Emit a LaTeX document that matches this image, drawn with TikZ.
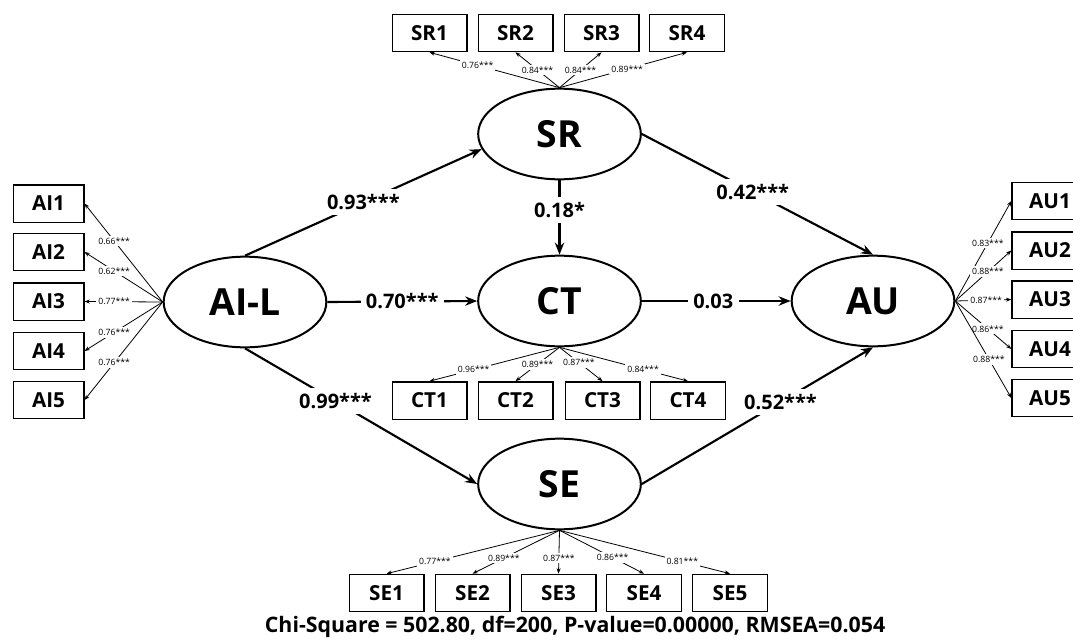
\documentclass[tikz,border=0pt]{standalone}
\usepackage{fontspec}
\setmainfont{Open Sans}
\usetikzlibrary{arrows.meta,shapes.geometric}
\begin{document}
\begin{tikzpicture}[x=0.75pt,y=-0.75pt,
  lat/.style={draw, line width=1.5pt, ellipse, minimum width=122pt, minimum height=68pt, inner sep=0pt, font=\bfseries\fontsize{28}{28}\selectfont},
  ind/.style={draw, line width=1pt, rectangle, minimum width=56pt, minimum height=28pt, inner sep=0pt, font=\bfseries\fontsize{15.5}{15.5}\selectfont},
  indA/.style={ind, minimum width=53pt},
  spath/.style={line width=1.6pt, -{Stealth[length=9pt,width=7pt]}},
  slab/.style={fill=white, inner sep=4pt, font=\bfseries\fontsize{15}{15}\selectfont},
  load/.style={line width=0.6pt, -{Stealth[length=4pt,width=3pt]}},
  llab/.style={fill=white, inner sep=1.5pt, font=\fontsize{6.5}{6.5}\selectfont},
  fitlab/.style={font=\bfseries\fontsize{16}{16}\selectfont}
]
\useasboundingbox (0,0) rectangle (1073,639);
\clip (0,0) rectangle (1073,639);
% latent variables
\node[lat] (AIL) at (245,302) {AI-L};
\node[lat] (SR) at (559.5,134) {SR};
\node[lat] (CT) at (559.5,301) {CT};
\node[lat] (SE) at (559.5,484) {SE};
\node[lat] (AU) at (873,301) {AU};
% indicators
\node[ind] (SR1) at (429.5,33) {SR1};
\node[ind] (SR2) at (515.5,33) {SR2};
\node[ind] (SR3) at (601.5,33) {SR3};
\node[ind] (SR4) at (687,33) {SR4};
\node[indA] (AI1) at (48.5,203.5) {AI1};
\node[indA] (AI2) at (48.5,252) {AI2};
\node[indA] (AI3) at (48.5,301.5) {AI3};
\node[indA] (AI4) at (48.5,351) {AI4};
\node[indA] (AI5) at (48.5,400) {AI5};
\node[ind, minimum width=57pt] (AU1) at (1050,201) {AU1};
\node[ind, minimum width=57pt] (AU2) at (1050,250.5) {AU2};
\node[ind, minimum width=57pt] (AU3) at (1050,299.5) {AU3};
\node[ind, minimum width=57pt] (AU4) at (1050,349) {AU4};
\node[ind, minimum width=57pt] (AU5) at (1050,398) {AU5};
\node[ind] (CT1) at (429.5,400.5) {CT1};
\node[ind] (CT2) at (515.5,400.5) {CT2};
\node[ind] (CT3) at (602.5,400.5) {CT3};
\node[ind] (CT4) at (688,400.5) {CT4};
\node[ind] (SE1) at (386.5,593) {SE1};
\node[ind] (SE2) at (472.5,593) {SE2};
\node[ind] (SE3) at (558.5,593) {SE3};
\node[ind] (SE4) at (644,593) {SE4};
\node[ind] (SE5) at (730,593) {SE5};
% structural paths
\draw[spath] (AIL.north) -- node[slab, pos=0.5] {0.93***} (SR.191);
\draw[spath] (AIL.east) -- node[slab, pos=0.5] {0.70***} (CT.west);
\draw[spath] (AIL.south) -- node[slab, pos=0.39] {0.99***} (SE.west);
\draw[spath] (SR.south) -- node[slab, pos=0.4] {0.18*} (CT.north);
\draw[spath] (SR.east) -- node[slab, pos=0.48] {0.42***} (AU.north);
\draw[spath] (CT.east) -- node[slab, pos=0.48] {0.03} (AU.west);
\draw[spath] (SE.east) -- node[slab, pos=0.6] {0.52***} (AU.south);
% loadings SR
\draw[load] (SR.north) -- node[llab, pos=0.63] {0.76***} (SR1.south);
\draw[load] (SR.north) -- node[llab, pos=0.5] {0.84***} (SR2.south);
\draw[load] (SR.north) -- node[llab, pos=0.5] {0.84***} (SR3.south);
\draw[load] (SR.north) -- node[llab, pos=0.53] {0.89***} (SR4.south);
% loadings AI
\draw[load] (AIL.west) -- node[llab, pos=0.62] {0.66***} (AI1.east);
\draw[load] (AIL.west) -- node[llab, pos=0.62] {0.62***} (AI2.east);
\draw[load] (AIL.west) -- node[llab, pos=0.62] {0.77***} (AI3.east);
\draw[load] (AIL.west) -- node[llab, pos=0.62] {0.76***} (AI4.east);
\draw[load] (AIL.west) -- node[llab, pos=0.62] {0.76***} (AI5.east);
% loadings AU
\draw[load] (AU.east) -- node[llab, pos=0.58] {0.83***} (AU1.west);
\draw[load] (AU.east) -- node[llab, pos=0.58] {0.88***} (AU2.west);
\draw[load] (AU.east) -- node[llab, pos=0.55] {0.87***} (AU3.west);
\draw[load] (AU.east) -- node[llab, pos=0.58] {0.86***} (AU4.west);
\draw[load] (AU.east) -- node[llab, pos=0.6] {0.88***} (AU5.west);
% loadings CT
\draw[load] (CT.south) -- node[llab, pos=0.66] {0.96***} (CT1.north);
\draw[load] (CT.south) -- node[llab, pos=0.5] {0.89***} (CT2.north);
\draw[load] (CT.south) -- node[llab, pos=0.45] {0.87***} (CT3.north);
\draw[load] (CT.south) -- node[llab, pos=0.65] {0.84***} (CT4.north);
% loadings SE
\draw[load] (SE.south) -- node[llab, pos=0.72] {0.77***} (SE1.north);
\draw[load] (SE.south) -- node[llab, pos=0.64] {0.89***} (SE2.north);
\draw[load] (SE.south) -- node[llab, pos=0.64] {0.87***} (SE3.north);
\draw[load] (SE.south) -- node[llab, pos=0.63] {0.86***} (SE4.north);
\draw[load] (SE.south) -- node[llab, pos=0.72] {0.81***} (SE5.north);
% fit statistics
\node[fitlab] (fit) at (575,627) {Chi-Square = 502.80, df=200, P-value=0.00000, RMSEA=0.054};
\end{tikzpicture}
\end{document}
